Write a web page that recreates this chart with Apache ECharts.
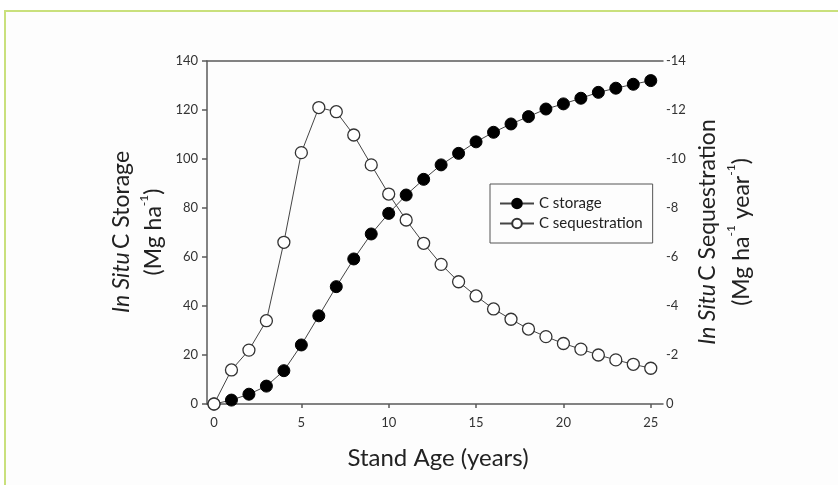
<!DOCTYPE html>
<html>
<head>
<meta charset="utf-8">
<script src="https://cdn.jsdelivr.net/npm/echarts@6/dist/echarts.min.js"></script>
<style>
  html, body { margin: 0; padding: 0; background: #ffffff; }
  #frame { position: absolute; left: 4px; top: 10px; width: 900px; height: 500px;
           border-left: 2px solid #c9e07c; border-top: 2px solid #c9e07c; background: #fdfdfd; }
  #chart { position: absolute; left: 0; top: 0; width: 838px; height: 485px; }
</style>
</head>
<body>
<div id="frame"></div>
<div id="chart"></div>
<script>
// Stand age (years)
const years = [0,1,2,3,4,5,6,7,8,9,10,11,12,13,14,15,16,17,18,19,20,21,22,23,24,25];
// In situ C storage (Mg ha-1)
const storage = [0,1.6,4.0,7.3,13.6,24.1,36.0,47.9,59.2,69.4,77.8,85.3,91.7,97.6,102.3,107.0,110.9,114.3,117.3,120.4,122.5,124.8,127.2,128.9,130.5,132.0];
// In situ C sequestration (Mg ha-1 year-1), negative convention
const sequestration = [0,-1.39,-2.2,-3.4,-6.6,-10.26,-12.1,-11.93,-10.98,-9.76,-8.57,-7.51,-6.56,-5.7,-4.99,-4.41,-3.88,-3.46,-3.06,-2.75,-2.47,-2.24,-2.0,-1.8,-1.62,-1.46];
const xTicks = [0,5,10,15,20,25];
const seriesNames = ['C storage', 'C sequestration'];

const FONT = 'Lato';
const chart = echarts.init(document.getElementById('chart'), null, { renderer: 'canvas' });

const axisLineStyle = { color: '#5a5a5a', width: 1.5 };
const labelStyle = { color: '#333', fontSize: 13, fontFamily: FONT };
const nameRich = {
  it: { fontSize: 23, fontStyle: 'italic', fontFamily: FONT, fill: '#222' },
  n: { fontSize: 23, fontFamily: FONT, fill: '#222' },
  sup: { fontSize: 12, fontFamily: FONT, fill: '#222', verticalAlign: 'top' }
};

chart.setOption({
  backgroundColor: 'transparent',
  animation: false,
  grid: { left: 207, right: 175, top: 61, bottom: 81, containLabel: false },
  legend: {
    data: seriesNames,
    orient: 'vertical',
    left: 490, top: 184,
    padding: [12, 10, 12, 9],
    itemGap: 5,
    itemWidth: 34, itemHeight: 12,
    borderColor: '#555', borderWidth: 1,
    backgroundColor: '#fdfdfd',
    textStyle: { color: '#222', fontSize: 15, fontFamily: FONT }
  },
  xAxis: [{
    type: 'value', min: -0.4, max: 25.7, position: 'bottom',
    axisLine: { show: true, onZero: false, lineStyle: axisLineStyle },
    axisTick: { show: true, inside: false, length: 4, customValues: xTicks, lineStyle: axisLineStyle },
    axisLabel: Object.assign({ customValues: xTicks, margin: 12 }, labelStyle),
    splitLine: { show: false }
  }, {
    type: 'value', min: -0.4, max: 25.7, position: 'top',
    axisLine: { show: true, onZero: false, lineStyle: axisLineStyle },
    axisTick: { show: false }, axisLabel: { show: false }, splitLine: { show: false }
  }],
  yAxis: [{
    type: 'value', min: 0, max: 140, interval: 20, position: 'left',
    axisLine: { show: true, onZero: false, lineStyle: axisLineStyle },
    axisTick: { show: true, length: 5, lineStyle: axisLineStyle },
    axisLabel: Object.assign({ margin: 9 }, labelStyle),
    splitLine: { show: false }
  }, {
    type: 'value', min: -14, max: 0, interval: 2, inverse: true, position: 'right',
    axisLine: { show: false }, axisTick: { show: false },
    axisLabel: Object.assign({ margin: 3 }, labelStyle),
    splitLine: { show: false }
  }],
  series: [{
    name: seriesNames[0], type: 'line', xAxisIndex: 0, yAxisIndex: 0,
    data: years.map((x, i) => [x, storage[i]]),
    symbol: 'circle', symbolSize: 12,
    lineStyle: { color: '#444', width: 1 },
    itemStyle: { color: '#000', borderColor: '#000', borderWidth: 1 }
  }, {
    name: seriesNames[1], type: 'line', xAxisIndex: 0, yAxisIndex: 1,
    data: years.map((x, i) => [x, sequestration[i]]),
    symbol: 'circle', symbolSize: 12,
    lineStyle: { color: '#444', width: 1 },
    itemStyle: { color: '#ffffff', borderColor: '#333', borderWidth: 1.3 }
  }],
  graphic: [{
    type: 'text', x: 138, y: 232, rotation: Math.PI / 2,
    style: {
      text: '{it|In Situ} {n|C Storage}\n{n|(Mg ha}{sup|-1}{n|)}',
      align: 'center', verticalAlign: 'middle', lineHeight: 32,
      fill: '#222', rich: nameRich
    }
  }, {
    type: 'text', x: 725, y: 232, rotation: Math.PI / 2,
    style: {
      text: '{it|In Situ} {n|C Sequestration}\n{n|(Mg ha}{sup|-1}{n| year}{sup|-1}{n|)}',
      align: 'center', verticalAlign: 'middle', lineHeight: 34,
      fill: '#222', rich: nameRich
    }
  }, {
    type: 'text', x: 438, y: 458,
    style: {
      text: 'Stand Age (years)', align: 'center', verticalAlign: 'middle',
      fontSize: 24, fontFamily: FONT, fill: '#222'
    }
  }]
});
</script>
</body>
</html>
